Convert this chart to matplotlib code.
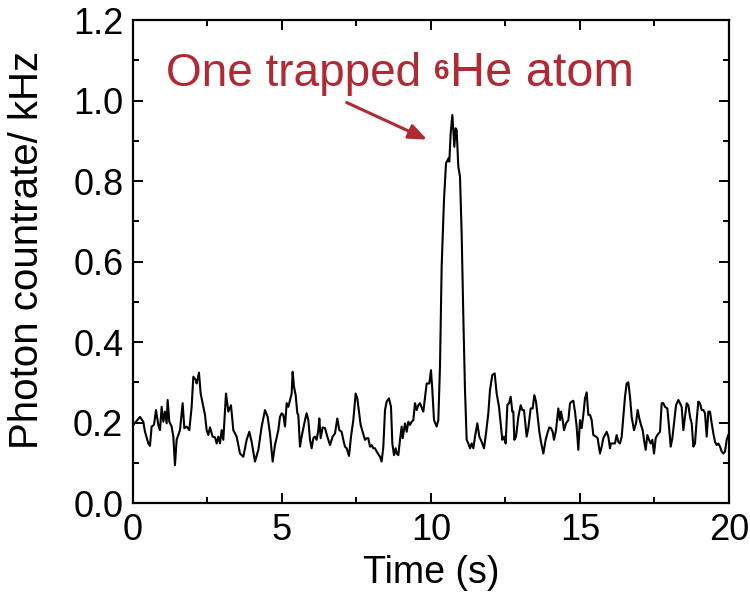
import matplotlib
matplotlib.use("Agg")
import matplotlib.pyplot as plt
from matplotlib.ticker import MultipleLocator

# ===== data =====
time_s = [
    0.011, 0.235, 0.347, 0.403, 0.515, 0.570, 0.626, 0.705, 0.772, 0.850,
    0.906, 0.962, 1.018, 1.074, 1.130, 1.163, 1.219, 1.298, 1.354, 1.409,
    1.465, 1.577, 1.667, 1.723, 1.801, 1.890, 1.969, 2.025, 2.103, 2.137,
    2.215, 2.271, 2.338, 2.416, 2.472, 2.528, 2.584, 2.673, 2.752, 2.808,
    2.864, 2.920, 2.975, 3.031, 3.121, 3.199, 3.289, 3.367, 3.479, 3.591,
    3.703, 3.814, 3.904, 3.982, 4.094, 4.206, 4.318, 4.430, 4.519, 4.597,
    4.687, 4.765, 4.877, 4.933, 4.989,
    5.045, 5.101, 5.157, 5.213, 5.269, 5.325, 5.358, 5.403, 5.459, 5.515,
    5.548, 5.604, 5.660, 5.716, 5.772, 5.828, 5.884, 5.940, 5.996, 6.052,
    6.107, 6.163, 6.219, 6.253, 6.298, 6.365, 6.443, 6.521, 6.611, 6.700,
    6.779, 6.857, 6.924, 7.002, 7.058, 7.114, 7.170, 7.249, 7.316, 7.394,
    7.472, 7.528, 7.584, 7.640, 7.707, 7.785, 7.841, 7.897, 7.953, 8.009,
    8.065, 8.121, 8.177, 8.289, 8.345, 8.401, 8.457, 8.513, 8.591, 8.658,
    8.703, 8.759, 8.815, 8.848, 8.904, 8.960, 9.016, 9.050, 9.128, 9.184,
    9.240, 9.296, 9.352, 9.407, 9.463, 9.519, 9.575,
    9.631, 9.743, 9.855, 9.944, 10.000, 10.045, 10.101, 10.190, 10.246, 10.302,
    10.358, 10.436, 10.504, 10.582, 10.615, 10.660, 10.716, 10.750, 10.783, 10.828,
    10.861, 10.917, 10.973, 11.029, 11.085, 11.141, 11.197, 11.253, 11.309, 11.365,
    11.421, 11.477, 11.555, 11.622, 11.700, 11.779, 11.846, 11.924, 11.980, 12.058,
    12.137, 12.204, 12.282, 12.338, 12.394, 12.450,
    12.506, 12.562, 12.618, 12.674, 12.729, 12.763, 12.797, 12.853, 12.931, 13.009,
    13.065, 13.121, 13.210, 13.266, 13.345, 13.412, 13.468, 13.524, 13.580, 13.636,
    13.691, 13.770, 13.848, 13.904, 13.971, 14.027, 14.083, 14.128, 14.195, 14.273,
    14.329, 14.363, 14.419, 14.463, 14.530, 14.609, 14.665, 14.721, 14.777, 14.832,
    14.888, 14.944, 15.000, 15.056, 15.112, 15.168, 15.224, 15.280, 15.336, 15.392,
    15.447, 15.537, 15.592, 15.671, 15.727, 15.783, 15.839, 15.895, 15.951, 16.006,
    16.040, 16.096, 16.174, 16.230, 16.286, 16.342,
    16.399, 16.454, 16.510, 16.566, 16.622, 16.678, 16.734, 16.812, 16.880, 16.935,
    16.991, 17.047, 17.103, 17.159, 17.204, 17.260, 17.316, 17.372, 17.428, 17.484,
    17.540, 17.595, 17.685, 17.741, 17.797, 17.853, 17.931, 17.987, 18.043, 18.099,
    18.155, 18.222, 18.300, 18.356, 18.412, 18.468, 18.524, 18.580, 18.636, 18.692,
    18.748, 18.804, 18.859, 18.915, 18.971, 19.027, 19.083, 19.139, 19.195, 19.251,
    19.307, 19.363, 19.419, 19.475, 19.531, 19.587, 19.643, 19.698, 19.754, 19.810,
    19.866, 19.922, 19.978,
]
countrate_khz = [
    0.194, 0.214, 0.202, 0.177, 0.148, 0.142, 0.190, 0.194, 0.231, 0.194,
    0.181, 0.239, 0.202, 0.227, 0.198, 0.256, 0.202, 0.190, 0.165, 0.094,
    0.157, 0.181, 0.248, 0.186, 0.190, 0.181, 0.239, 0.314, 0.306, 0.297,
    0.324, 0.272, 0.248, 0.219, 0.181, 0.169, 0.188, 0.165, 0.163, 0.148,
    0.165, 0.148, 0.181, 0.157, 0.272, 0.227, 0.243, 0.181, 0.165, 0.123,
    0.115, 0.157, 0.177, 0.152, 0.103, 0.132, 0.190, 0.231, 0.214, 0.173,
    0.103, 0.144, 0.181, 0.214, 0.223,
    0.219, 0.190, 0.248, 0.239, 0.256, 0.272, 0.326, 0.289, 0.268, 0.223,
    0.219, 0.140, 0.165, 0.186, 0.206, 0.223, 0.206, 0.157, 0.136, 0.161,
    0.165, 0.157, 0.181, 0.210, 0.161, 0.188, 0.186, 0.165, 0.144, 0.165,
    0.173, 0.210, 0.181, 0.177, 0.157, 0.140, 0.136, 0.117, 0.165, 0.206,
    0.272, 0.260, 0.227, 0.194, 0.177, 0.157, 0.161, 0.161, 0.140, 0.144,
    0.136, 0.136, 0.128, 0.115, 0.103, 0.140, 0.231, 0.252, 0.260, 0.239,
    0.148, 0.119, 0.136, 0.123, 0.119, 0.157, 0.190, 0.161, 0.198, 0.177,
    0.202, 0.194, 0.202, 0.206, 0.248, 0.231, 0.243,
    0.248, 0.227, 0.297, 0.297, 0.330, 0.281, 0.206, 0.190, 0.206, 0.339,
    0.587, 0.753, 0.844, 0.856, 0.848, 0.918, 0.964, 0.927, 0.885, 0.931,
    0.927, 0.836, 0.811, 0.670, 0.463, 0.281, 0.157, 0.148, 0.136, 0.148,
    0.136, 0.165, 0.198, 0.165, 0.152, 0.136, 0.173, 0.223, 0.281, 0.318,
    0.322, 0.272, 0.239, 0.198, 0.157, 0.165,
    0.148, 0.243, 0.248, 0.264, 0.227, 0.227, 0.157, 0.165, 0.214, 0.243,
    0.231, 0.231, 0.165, 0.186, 0.235, 0.235, 0.268, 0.252, 0.214, 0.177,
    0.152, 0.123, 0.157, 0.173, 0.188, 0.186, 0.177, 0.157, 0.181, 0.235,
    0.206, 0.227, 0.206, 0.181, 0.198, 0.206, 0.248, 0.252, 0.254, 0.227,
    0.190, 0.132, 0.206, 0.186, 0.219, 0.260, 0.275, 0.219, 0.219, 0.206,
    0.169, 0.165, 0.161, 0.123, 0.140, 0.161, 0.169, 0.177, 0.165, 0.136,
    0.148, 0.148, 0.148, 0.169, 0.152, 0.148,
    0.165, 0.214, 0.264, 0.297, 0.300, 0.264, 0.214, 0.181, 0.198, 0.231,
    0.210, 0.194, 0.181, 0.152, 0.132, 0.169, 0.157, 0.148, 0.157, 0.123,
    0.161, 0.169, 0.177, 0.248, 0.248, 0.239, 0.235, 0.190, 0.140, 0.161,
    0.198, 0.243, 0.256, 0.248, 0.239, 0.181, 0.214, 0.248, 0.243, 0.214,
    0.198, 0.140, 0.148, 0.206, 0.252, 0.248, 0.231, 0.231, 0.223, 0.165,
    0.227, 0.227, 0.198, 0.173, 0.152, 0.144, 0.148, 0.140, 0.128, 0.123,
    0.128, 0.157, 0.169,
]

# 注釈テキスト（上付き 6 は別パーツ）
ANNOT_PARTS = ["One trapped", "6", "He atom"]
ANNOT_RED = "#B02A33"

# ===== style =====
plt.rcParams["font.family"] = ["Liberation Sans", "DejaVu Sans"]
plt.rcParams["axes.unicode_minus"] = False

fig = plt.figure(figsize=(7.5, 5.96), dpi=100)
ax = fig.add_axes([0.1773, 0.1560, 0.7947, 0.8104])

ax.plot(time_s, countrate_khz, color="black", lw=1.5)

ax.set_xlim(0, 20)
ax.set_ylim(0, 1.2)
ax.xaxis.set_major_locator(MultipleLocator(5))
ax.xaxis.set_minor_locator(MultipleLocator(2.5))
ax.yaxis.set_major_locator(MultipleLocator(0.2))
ax.yaxis.set_minor_locator(MultipleLocator(0.1))
ax.yaxis.set_major_formatter(lambda v, pos: f"{v:.1f}")

ax.tick_params(which="both", direction="in", top=True, right=True,
               labelsize=26, width=1.4)
ax.tick_params(which="major", length=7, pad=7)
ax.tick_params(which="minor", length=4)
for sp in ax.spines.values():
    sp.set_linewidth(1.6)

ax.set_xlabel("Time (s)", fontsize=27, labelpad=5)
ax.set_ylabel("Photon countrate/ kHz", fontsize=29)
ax.yaxis.set_label_coords(-0.146, 0.525)

# ----- annotation: pieces laid out one after another -----
renderer = fig.canvas.get_renderer()
anchor = (1.1, 1.035)
to_pt = 72.0 / fig.dpi
x0 = ax.transData.transform(anchor)[0]
t1 = ax.annotate(ANNOT_PARTS[0], xy=anchor, xytext=(0, 0), textcoords="offset points",
                 color=ANNOT_RED, fontsize=33, ha="left", va="baseline")
bb1 = t1.get_window_extent(renderer)
t2 = ax.annotate(ANNOT_PARTS[1], xy=anchor,
                 xytext=((bb1.x1 - x0 + 13) * to_pt, 5), textcoords="offset points",
                 color=ANNOT_RED, fontsize=20, fontweight="bold",
                 ha="left", va="baseline")
bb2 = t2.get_window_extent(renderer)
ax.annotate(ANNOT_PARTS[2], xy=anchor,
            xytext=((bb2.x1 - x0 + 1) * to_pt, 0), textcoords="offset points",
            color=ANNOT_RED, fontsize=35, ha="left", va="baseline")

ax.annotate("", xy=(9.87, 0.903), xytext=(7.17, 0.995),
            arrowprops=dict(arrowstyle="-|>,head_length=1.1,head_width=0.45",
                            color=ANNOT_RED, lw=2.2, shrinkA=0, shrinkB=0))

fig.savefig("out.png", dpi=100)
